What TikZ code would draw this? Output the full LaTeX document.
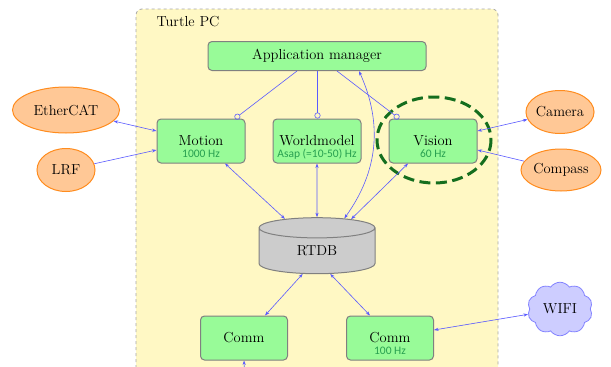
\documentclass[tikz,border=0pt]{standalone}
\usepackage{fontspec}
\newfontfamily\hzfont{Carlito}
\usetikzlibrary{shapes.geometric,shapes.symbols,arrows.meta}
\definecolor{bgyellow}{RGB}{255,248,196}
\definecolor{boxgreen}{RGB}{152,251,152}
\definecolor{hzgreen}{RGB}{40,160,80}
\definecolor{linkblue}{RGB}{90,90,255}
\definecolor{peach}{RGB}{255,200,150}
\definecolor{darkorange}{RGB}{255,140,30}
\definecolor{cloudfill}{RGB}{205,205,255}
\definecolor{cloudline}{RGB}{130,130,255}
\definecolor{ringgreen}{RGB}{20,110,30}
\begin{document}
\begin{tikzpicture}[x=1pt,y=-1pt,
  lbl/.style={font=\fontsize{14.5}{17}\selectfont},
  module/.style={lbl, draw=gray, line width=1pt, fill=boxgreen, rounded corners=4pt,
    minimum width=88pt, minimum height=44pt, inner sep=0pt, align=center},
  rate/.style={font=\hzfont\fontsize{11.5}{12}\selectfont, text=hzgreen, inner sep=0pt},
  device/.style={lbl, ellipse, draw=darkorange, line width=1pt, fill=peach, inner sep=0pt},
  link/.style={draw=linkblue, line width=0.6pt},
  tip/.tip={Stealth[length=4.5pt,width=3.2pt]},
  both/.style={link, tip-tip},
  oneway/.style={link, -tip},
  socket/.style={link, -{Circle[open,length=6pt,width=6pt]}}]
\useasboundingbox (0,0) rectangle (611,367);

% enclosing computer
\draw[gray!70, dashed, line width=0.8pt, fill=bgyellow, rounded corners=6pt]
  (136,380) -- (136,9) -- (498,9) -- (498,380);
\node[lbl, anchor=west] (pc) at (153,22) {Turtle PC};

% software modules
\node[module, minimum width=218pt, minimum height=29pt] (app) at (317,56) {Application manager};
\node[module] (motion) at (201,141) {Motion};
\node[module] (world) at (317,141) {Worldmodel};
\node[module] (vision) at (433,141) {Vision};
\node[lbl, shape=cylinder, shape border rotate=90, aspect=0.5, draw=gray, line width=1pt,
  fill=gray!40, minimum width=116pt, minimum height=56pt, inner sep=0pt] (rtdb) at (317,251) {RTDB};
\node[module, minimum width=87pt] (comm1) at (244,338) {Comm};
\node[module, minimum width=87pt] (comm2) at (390,338) {Comm};

% update rates under the module names
\node[rate] (motionrate) at ([yshift=-13pt]motion.center) {1000 Hz};
\node[rate] (worldrate) at ([yshift=-13pt]world.center) {Asap (=10-50) Hz};
\node[rate] (visionrate) at ([yshift=-13pt]vision.center) {60 Hz};
\node[rate] (commrate) at ([yshift=-13pt]comm2.center) {100 Hz};

% highlight ring round the vision module
\draw[ringgreen, line width=3pt, dash pattern=on 11pt off 5.5pt] (434,140) ellipse [x radius=57, y radius=43];

% external devices
\node[device, minimum width=107pt, minimum height=46pt] (ethercat) at (66,110) {EtherCAT};
\node[device, minimum width=58pt, minimum height=43pt] (lrf) at (66,170) {LRF};
\node[device, minimum width=66pt, minimum height=43pt] (camera) at (560,112) {Camera};
\node[device, minimum width=80pt, minimum height=42pt] (compass) at (561,170) {Compass};
\node[lbl, cloud, cloud puffs=10, cloud puff arc=110, draw=cloudline, line width=0.8pt,
  fill=cloudfill, minimum width=65pt, minimum height=43pt, inner sep=0pt] (wifi) at (560,309) {WIFI};
\coordinate (below) at (245,385);

% application manager interfaces
\draw[socket] ([xshift=-20pt]app.south) -- ([xshift=34pt]motion.north);
\draw[socket] ([xshift=0.5pt]app.south) -- ([xshift=0.5pt]world.north);
\draw[socket] ([xshift=20pt]app.south) -- ([xshift=-34pt]vision.north);
\draw[both] (rtdb.50) to[bend right=30] ([xshift=42pt]app.south);

% database links
\draw[both] ([xshift=24pt]motion.south) -- (rtdb.135);
\draw[both] (world.south) -- (rtdb.north);
\draw[both] ([xshift=-25pt]vision.south) -- (rtdb.43);
\draw[both] (rtdb.238) -- ([xshift=21pt]comm1.north);
\draw[both] (rtdb.300) -- ([xshift=-20pt]comm2.north);

% device links
\draw[both] (ethercat) -- ([yshift=10pt]motion.west);
\draw[oneway] (lrf) -- ([yshift=-9pt]motion.west);
\draw[both] (camera) -- ([yshift=10pt]vision.east);
\draw[oneway] (compass) -- ([yshift=-9pt]vision.east);
\draw[both] (wifi) -- ([yshift=8pt]comm2.east);
\draw[oneway] (below) -- (comm1.south);
\end{tikzpicture}
\end{document}
